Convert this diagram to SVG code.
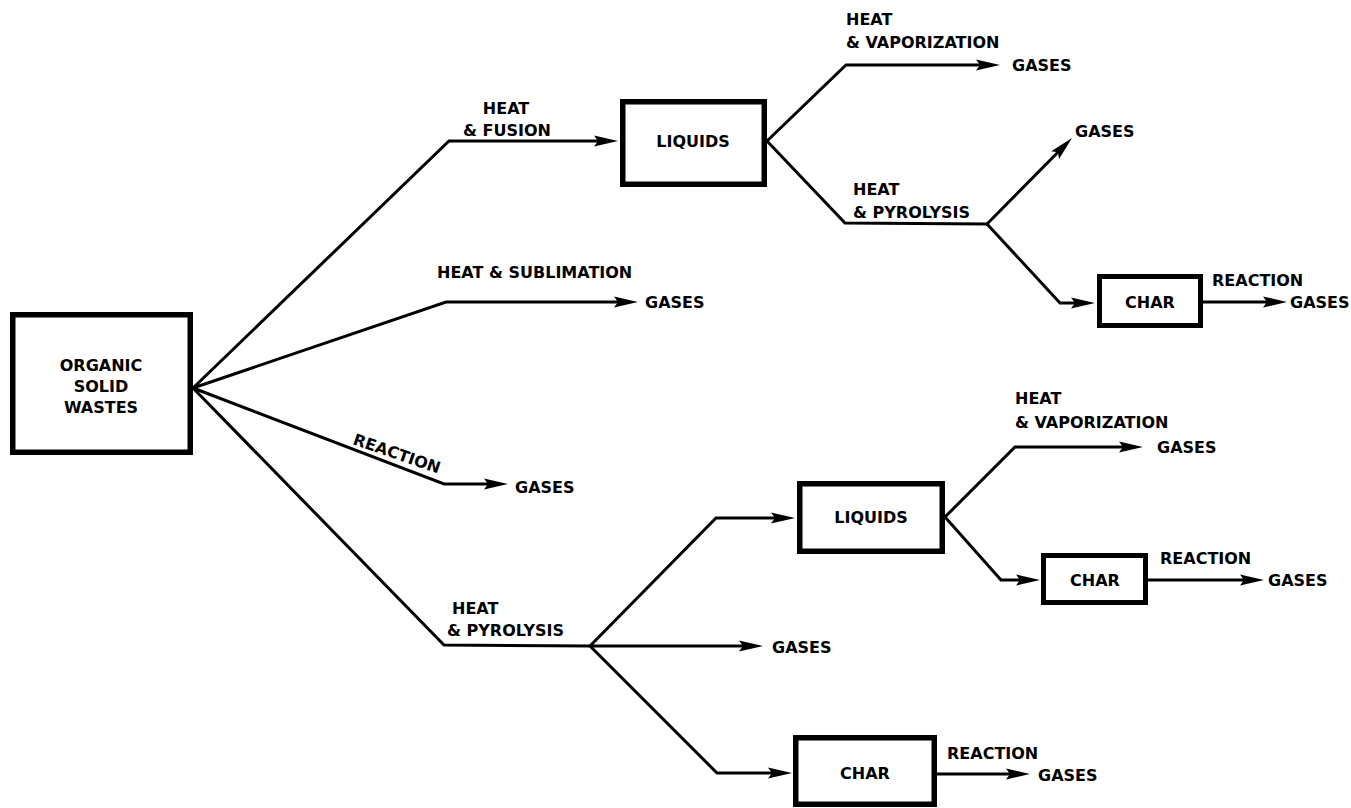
<svg xmlns="http://www.w3.org/2000/svg" width="1351" height="808" viewBox="0 0 1351 808">
<defs>
<style>
.box{fill:#fff;stroke:#000;stroke-width:5.5}
.c{fill:none;stroke:#000;stroke-width:3;stroke-linejoin:miter}
.a{marker-end:url(#ah)}
text{font-family:"DejaVu Sans","Liberation Sans",Arial,sans-serif;font-weight:bold;font-size:16px;fill:#000}
.m{text-anchor:middle}
</style>
<marker id="ah" markerUnits="userSpaceOnUse" markerWidth="30" markerHeight="14" viewBox="-14 -7 30 14" refX="0" refY="0" orient="auto" overflow="visible">
<path d="M-12,-5.5 L12,0 L-12,5.5 L-8,0 Z" fill="#000"/>
</marker>
</defs>
<rect width="1351" height="808" fill="#fff"/>
<g id="connectors">
<polyline class="c a" points="193,388 449,141 606,141"/>
<polyline class="c a" points="193,388 446,302 626,302"/>
<polyline class="c a" points="193,388 444,484 496,484"/>
<polyline class="c" points="193,388 444,645 590,646"/>
<polyline class="c a" points="590,646 716,518 783,518"/>
<polyline class="c a" points="590,646 751,646"/>
<polyline class="c a" points="590,646 717,773 780,773"/>
<polyline class="c a" points="767,141 846,65 988,65"/>
<polyline class="c" points="767,141 845,223 987,224"/>
<polyline class="c a" points="987,224 1063.6,146.5"/>
<polyline class="c a" points="987,224 1060,303 1083,303"/>
<polyline class="c a" points="1203,302 1275,302"/>
<polyline class="c a" points="945,517 1015,447 1131,447"/>
<polyline class="c a" points="945,517 1001,580 1028,580"/>
<polyline class="c a" points="1148,580 1252,580"/>
<polyline class="c a" points="937,774 1018,774"/>
</g>
<g id="organic"><rect class="box" x="12.75" y="314.75" width="177.5" height="137.5"/>
<text class="m" x="101" y="371">ORGANIC</text><text class="m" x="101" y="392">SOLID</text><text class="m" x="101" y="413">WASTES</text></g>
<g id="liquids1"><rect class="box" x="622.75" y="101.75" width="141.5" height="82.5"/><text class="m" x="693" y="147">LIQUIDS</text></g>
<g id="char1"><rect class="box" x="1099.5" y="276.5" width="101" height="49" style="stroke-width:5"/><text class="m" x="1150" y="308">CHAR</text></g>
<g id="liquids2"><rect class="box" x="799.75" y="483.75" width="142.5" height="67.5"/><text class="m" x="871" y="523">LIQUIDS</text></g>
<g id="char2"><rect class="box" x="1043.5" y="555.5" width="102" height="47" style="stroke-width:5"/><text class="m" x="1095" y="586">CHAR</text></g>
<g id="char3"><rect class="box" x="795.75" y="737.75" width="138.5" height="66.5"/><text class="m" x="865" y="779">CHAR</text></g>
<g id="labels">
<text class="m" x="506" y="114">HEAT</text>
<text class="m" x="507" y="136">&amp; FUSION</text>
<text x="437" y="278">HEAT &amp; SUBLIMATION</text>
<text x="645" y="308">GASES</text>
<text transform="translate(352,444) rotate(19)">REACTION</text>
<text x="515" y="493">GASES</text>
<text x="452" y="614">HEAT</text>
<text x="447" y="636">&amp; PYROLYSIS</text>
<text x="772" y="653">GASES</text>
<text x="846" y="25">HEAT</text>
<text x="846" y="48">&amp; VAPORIZATION</text>
<text x="1012" y="71">GASES</text>
<text x="853" y="195">HEAT</text>
<text x="853" y="218">&amp; PYROLYSIS</text>
<text x="1075" y="137">GASES</text>
<text x="1212" y="286">REACTION</text>
<text x="1290" y="308">GASES</text>
<text x="1015" y="404">HEAT</text>
<text x="1015" y="428">&amp; VAPORIZATION</text>
<text x="1157" y="453">GASES</text>
<text x="1160" y="564">REACTION</text>
<text x="1268" y="586">GASES</text>
<text x="947" y="759">REACTION</text>
<text x="1038" y="781">GASES</text>
</g>
</svg>
